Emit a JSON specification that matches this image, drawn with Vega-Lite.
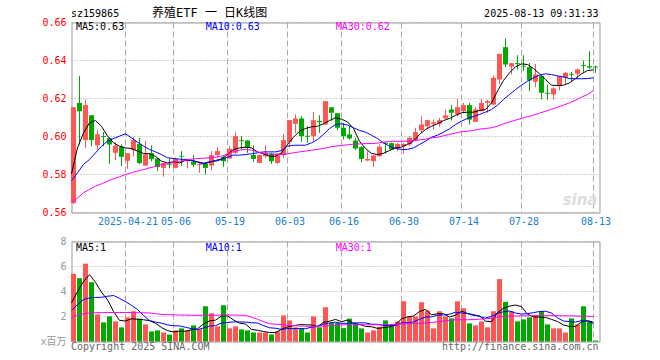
{
"$schema": "https://vega.github.io/schema/vega-lite/v6.json",
"background": "white",
"padding": {"left": 39.5, "top": 6.5, "right": 10, "bottom": 5},
"bounds": "flush",
"spacing": 29,
"config": {
  "view": {"stroke": "#999999", "strokeWidth": 1},
  "font": "DejaVu Sans Mono",
  "axis": {"labelFont": "DejaVu Sans Mono, Noto Sans CJK SC", "labelFontSize": 10, "title": null, "ticks": false, "domain": false, "gridColor": "#aaaaaa", "gridWidth": 1, "translate": 0, "labelOverlap": false, "labelFlush": false}
},
"datasets": {"k": [
{"d":"2025-04-08","o":0.5650,"h":0.6154,"l":0.5644,"c":0.6154,"v":5.42,"m5":0.5804,"m10":0.5768,"m30":0.5653,"vm5":3.10,"vm10":2.47,"vm30":1.93},
{"d":"2025-04-09","o":0.6177,"h":0.6318,"l":0.5958,"c":0.6133,"v":5.07,"m5":0.5940,"m10":0.5809,"m30":0.5677,"vm5":4.00,"vm10":2.95,"vm30":2.09},
{"d":"2025-04-10","o":0.5981,"h":0.6195,"l":0.5940,"c":0.6165,"v":6.23,"m5":0.6019,"m10":0.5853,"m30":0.5704,"vm5":4.80,"vm10":3.36,"vm30":2.23},
{"d":"2025-04-11","o":0.6112,"h":0.6112,"l":0.5949,"c":0.5981,"v":4.75,"m5":0.6072,"m10":0.5879,"m30":0.5721,"vm5":5.35,"vm10":3.49,"vm30":2.28},
{"d":"2025-04-14","o":0.5954,"h":0.6033,"l":0.5932,"c":0.6012,"v":2.17,"m5":0.6084,"m10":0.5914,"m30":0.5739,"vm5":4.73,"vm10":3.52,"vm30":2.30},
{"d":"2025-04-15","o":0.6002,"h":0.6023,"l":0.5949,"c":0.5997,"v":1.53,"m5":0.6054,"m10":0.5949,"m30":0.5751,"vm5":3.95,"vm10":3.54,"vm30":2.31},
{"d":"2025-04-16","o":0.5991,"h":0.5995,"l":0.5856,"c":0.5958,"v":2.01,"m5":0.6002,"m10":0.5975,"m30":0.5765,"vm5":3.34,"vm10":3.62,"vm30":2.32},
{"d":"2025-04-17","o":0.5914,"h":0.5970,"l":0.5875,"c":0.5953,"v":1.61,"m5":0.5967,"m10":0.5989,"m30":0.5777,"vm5":2.41,"vm10":3.68,"vm30":2.32},
{"d":"2025-04-18","o":0.5946,"h":0.5958,"l":0.5844,"c":0.5893,"v":1.13,"m5":0.5949,"m10":0.6002,"m30":0.5788,"vm5":1.69,"vm10":3.45,"vm30":2.32},
{"d":"2025-04-21","o":0.5872,"h":0.5912,"l":0.5830,"c":0.5912,"v":1.93,"m5":0.5940,"m10":0.6014,"m30":0.5800,"vm5":1.64,"vm10":3.19,"vm30":2.32},
{"d":"2025-04-22","o":0.5928,"h":0.5998,"l":0.5896,"c":0.5981,"v":2.42,"m5":0.5937,"m10":0.5993,"m30":0.5809,"vm5":1.82,"vm10":2.89,"vm30":2.32},
{"d":"2025-04-23","o":0.5961,"h":0.5993,"l":0.5856,"c":0.5860,"v":1.83,"m5":0.5923,"m10":0.5970,"m30":0.5818,"vm5":1.78,"vm10":2.56,"vm30":2.31},
{"d":"2025-04-24","o":0.5847,"h":0.5977,"l":0.5844,"c":0.5907,"v":1.37,"m5":0.5911,"m10":0.5949,"m30":0.5826,"vm5":1.74,"vm10":2.08,"vm30":2.30},
{"d":"2025-04-25","o":0.5912,"h":0.5953,"l":0.5870,"c":0.5881,"v":0.81,"m5":0.5909,"m10":0.5932,"m30":0.5835,"vm5":1.67,"vm10":1.68,"vm30":2.28},
{"d":"2025-04-28","o":0.5884,"h":0.5886,"l":0.5818,"c":0.5839,"v":0.89,"m5":0.5896,"m10":0.5919,"m30":0.5842,"vm5":1.46,"vm10":1.55,"vm30":2.23},
{"d":"2025-04-29","o":0.5835,"h":0.5860,"l":0.5788,"c":0.5860,"v":0.72,"m5":0.5870,"m10":0.5905,"m30":0.5853,"vm5":1.12,"vm10":1.47,"vm30":2.17},
{"d":"2025-04-30","o":0.5853,"h":0.5882,"l":0.5832,"c":0.5849,"v":0.56,"m5":0.5861,"m10":0.5888,"m30":0.5856,"vm5":0.87,"vm10":1.33,"vm30":2.15},
{"d":"2025-05-06","o":0.5835,"h":0.5888,"l":0.5832,"c":0.5882,"v":0.89,"m5":0.5867,"m10":0.5884,"m30":0.5863,"vm5":0.77,"vm10":1.26,"vm30":2.13},
{"d":"2025-05-07","o":0.5898,"h":0.5923,"l":0.5844,"c":0.5894,"v":1.05,"m5":0.5861,"m10":0.5881,"m30":0.5870,"vm5":0.82,"vm10":1.25,"vm30":2.12},
{"d":"2025-05-08","o":0.5870,"h":0.5882,"l":0.5832,"c":0.5882,"v":0.89,"m5":0.5874,"m10":0.5879,"m30":0.5875,"vm5":0.82,"vm10":1.14,"vm30":2.11},
{"d":"2025-05-09","o":0.5868,"h":0.5902,"l":0.5839,"c":0.5851,"v":1.29,"m5":0.5875,"m10":0.5874,"m30":0.5881,"vm5":0.94,"vm10":1.03,"vm30":2.10},
{"d":"2025-05-12","o":0.5851,"h":0.5861,"l":0.5809,"c":0.5856,"v":0.97,"m5":0.5865,"m10":0.5867,"m30":0.5884,"vm5":1.02,"vm10":0.94,"vm30":2.10},
{"d":"2025-05-13","o":0.5858,"h":0.5858,"l":0.5800,"c":0.5835,"v":2.82,"m5":0.5856,"m10":0.5860,"m30":0.5886,"vm5":1.40,"vm10":1.09,"vm30":2.10},
{"d":"2025-05-14","o":0.5847,"h":0.5923,"l":0.5821,"c":0.5902,"v":2.26,"m5":0.5865,"m10":0.5867,"m30":0.5888,"vm5":1.65,"vm10":1.23,"vm30":2.10},
{"d":"2025-05-15","o":0.5902,"h":0.5944,"l":0.5888,"c":0.5923,"v":1.21,"m5":0.5874,"m10":0.5870,"m30":0.5891,"vm5":1.71,"vm10":1.27,"vm30":2.10},
{"d":"2025-05-16","o":0.5891,"h":0.5896,"l":0.5840,"c":0.5870,"v":2.90,"m5":0.5882,"m10":0.5879,"m30":0.5896,"vm5":2.03,"vm10":1.48,"vm30":2.11},
{"d":"2025-05-19","o":0.5884,"h":0.5949,"l":0.5884,"c":0.5935,"v":1.05,"m5":0.5905,"m10":0.5891,"m30":0.5909,"vm5":2.05,"vm10":1.53,"vm30":2.12},
{"d":"2025-05-20","o":0.5914,"h":0.6025,"l":0.5909,"c":0.6002,"v":1.21,"m5":0.5932,"m10":0.5902,"m30":0.5921,"vm5":1.73,"vm10":1.57,"vm30":2.12},
{"d":"2025-05-21","o":0.5981,"h":0.6002,"l":0.5932,"c":0.5976,"v":0.97,"m5":0.5940,"m10":0.5902,"m30":0.5928,"vm5":1.47,"vm10":1.56,"vm30":2.10},
{"d":"2025-05-22","o":0.5979,"h":0.5981,"l":0.5914,"c":0.5940,"v":0.89,"m5":0.5944,"m10":0.5905,"m30":0.5932,"vm5":1.40,"vm10":1.56,"vm30":2.10},
{"d":"2025-05-23","o":0.5902,"h":0.5953,"l":0.5867,"c":0.5882,"v":0.72,"m5":0.5940,"m10":0.5909,"m30":0.5928,"vm5":0.97,"vm10":1.50,"vm30":1.95},
{"d":"2025-05-26","o":0.5861,"h":0.5902,"l":0.5861,"c":0.5902,"v":0.72,"m5":0.5919,"m10":0.5914,"m30":0.5919,"vm5":0.90,"vm10":1.48,"vm30":1.78},
{"d":"2025-05-27","o":0.5896,"h":0.5954,"l":0.5888,"c":0.5914,"v":0.72,"m5":0.5909,"m10":0.5919,"m30":0.5912,"vm5":0.80,"vm10":1.27,"vm30":1.58},
{"d":"2025-05-28","o":0.5911,"h":0.5914,"l":0.5856,"c":0.5870,"v":0.56,"m5":0.5896,"m10":0.5919,"m30":0.5907,"vm5":0.72,"vm10":1.10,"vm30":1.43},
{"d":"2025-05-29","o":0.5861,"h":0.5914,"l":0.5856,"c":0.5911,"v":0.81,"m5":0.5896,"m10":0.5919,"m30":0.5905,"vm5":0.71,"vm10":1.06,"vm30":1.38},
{"d":"2025-05-30","o":0.5902,"h":0.6014,"l":0.5888,"c":0.5981,"v":2.09,"m5":0.5914,"m10":0.5926,"m30":0.5905,"vm5":0.98,"vm10":0.97,"vm30":1.36},
{"d":"2025-06-03","o":0.5972,"h":0.6086,"l":0.5944,"c":0.6086,"v":1.69,"m5":0.5958,"m10":0.5949,"m30":0.5909,"vm5":1.17,"vm10":1.04,"vm30":1.30},
{"d":"2025-06-04","o":0.6067,"h":0.6116,"l":0.6019,"c":0.6095,"v":1.13,"m5":0.5996,"m10":0.5954,"m30":0.5914,"vm5":1.26,"vm10":1.03,"vm30":1.27},
{"d":"2025-06-05","o":0.6095,"h":0.6107,"l":0.5972,"c":0.6002,"v":1.05,"m5":0.6028,"m10":0.5954,"m30":0.5919,"vm5":1.35,"vm10":1.04,"vm30":1.24},
{"d":"2025-06-06","o":0.6004,"h":0.6054,"l":0.5967,"c":0.5999,"v":0.72,"m5":0.6042,"m10":0.5954,"m30":0.5923,"vm5":1.34,"vm10":1.02,"vm30":1.22},
{"d":"2025-06-09","o":0.6002,"h":0.6128,"l":0.5979,"c":0.6086,"v":2.01,"m5":0.6051,"m10":0.5967,"m30":0.5928,"vm5":1.32,"vm10":1.15,"vm30":1.22},
{"d":"2025-06-10","o":0.6082,"h":0.6112,"l":0.6019,"c":0.6075,"v":1.13,"m5":0.6054,"m10":0.5984,"m30":0.5932,"vm5":1.21,"vm10":1.19,"vm30":1.22},
{"d":"2025-06-11","o":0.6063,"h":0.6186,"l":0.6063,"c":0.6186,"v":2.74,"m5":0.6067,"m10":0.6011,"m30":0.5937,"vm5":1.53,"vm10":1.39,"vm30":1.24},
{"d":"2025-06-12","o":0.6154,"h":0.6154,"l":0.6084,"c":0.6125,"v":1.48,"m5":0.6084,"m10":0.6042,"m30":0.5944,"vm5":1.62,"vm10":1.49,"vm30":1.27},
{"d":"2025-06-13","o":0.6123,"h":0.6123,"l":0.6032,"c":0.6046,"v":1.48,"m5":0.6098,"m10":0.6063,"m30":0.5949,"vm5":1.77,"vm10":1.55,"vm30":1.30},
{"d":"2025-06-16","o":0.6046,"h":0.6072,"l":0.5984,"c":0.6002,"v":1.07,"m5":0.6091,"m10":0.6067,"m30":0.5953,"vm5":1.58,"vm10":1.45,"vm30":1.32},
{"d":"2025-06-17","o":0.6011,"h":0.6054,"l":0.5984,"c":0.5990,"v":1.83,"m5":0.6077,"m10":0.6060,"m30":0.5956,"vm5":1.72,"vm10":1.46,"vm30":1.34},
{"d":"2025-06-18","o":0.5979,"h":0.5993,"l":0.5928,"c":0.5937,"v":1.40,"m5":0.6042,"m10":0.6046,"m30":0.5960,"vm5":1.45,"vm10":1.49,"vm30":1.34},
{"d":"2025-06-19","o":0.5944,"h":0.5949,"l":0.5865,"c":0.5882,"v":1.05,"m5":0.5975,"m10":0.6032,"m30":0.5961,"vm5":1.37,"vm10":1.49,"vm30":1.34},
{"d":"2025-06-20","o":0.5874,"h":0.5923,"l":0.5870,"c":0.5882,"v":0.72,"m5":0.5937,"m10":0.6023,"m30":0.5963,"vm5":1.21,"vm10":1.49,"vm30":1.34},
{"d":"2025-06-23","o":0.5870,"h":0.5900,"l":0.5839,"c":0.5900,"v":0.89,"m5":0.5911,"m10":0.6007,"m30":0.5963,"vm5":1.18,"vm10":1.38,"vm30":1.34},
{"d":"2025-06-24","o":0.5896,"h":0.5958,"l":0.5896,"c":0.5946,"v":1.18,"m5":0.5905,"m10":0.5989,"m30":0.5965,"vm5":1.05,"vm10":1.38,"vm30":1.34},
{"d":"2025-06-25","o":0.5967,"h":0.5967,"l":0.5910,"c":0.5962,"v":1.69,"m5":0.5912,"m10":0.5967,"m30":0.5970,"vm5":1.11,"vm10":1.28,"vm30":1.35},
{"d":"2025-06-26","o":0.5965,"h":0.5968,"l":0.5932,"c":0.5932,"v":1.34,"m5":0.5926,"m10":0.5949,"m30":0.5974,"vm5":1.16,"vm10":1.27,"vm30":1.36},
{"d":"2025-06-27","o":0.5937,"h":0.5965,"l":0.5923,"c":0.5961,"v":1.61,"m5":0.5940,"m10":0.5937,"m30":0.5975,"vm5":1.34,"vm10":1.28,"vm30":1.38},
{"d":"2025-06-30","o":0.5949,"h":0.5965,"l":0.5909,"c":0.5961,"v":3.22,"m5":0.5944,"m10":0.5932,"m30":0.5975,"vm5":1.81,"vm10":1.49,"vm30":1.40},
{"d":"2025-07-01","o":0.5958,"h":0.6002,"l":0.5949,"c":0.5993,"v":2.01,"m5":0.5958,"m10":0.5932,"m30":0.5975,"vm5":1.97,"vm10":1.51,"vm30":1.42},
{"d":"2025-07-02","o":0.5979,"h":0.6046,"l":0.5975,"c":0.6023,"v":2.01,"m5":0.5975,"m10":0.5940,"m30":0.5979,"vm5":2.04,"vm10":1.57,"vm30":1.44},
{"d":"2025-07-03","o":0.6033,"h":0.6107,"l":0.6019,"c":0.6063,"v":3.14,"m5":0.6011,"m10":0.5958,"m30":0.5982,"vm5":2.40,"vm10":1.78,"vm30":1.46},
{"d":"2025-07-04","o":0.6054,"h":0.6089,"l":0.6042,"c":0.6086,"v":2.47,"m5":0.6037,"m10":0.5975,"m30":0.5986,"vm5":2.57,"vm10":1.96,"vm30":1.48},
{"d":"2025-07-07","o":0.6067,"h":0.6089,"l":0.6037,"c":0.6075,"v":1.05,"m5":0.6054,"m10":0.5996,"m30":0.5993,"vm5":2.14,"vm10":1.97,"vm30":1.52},
{"d":"2025-07-08","o":0.6067,"h":0.6098,"l":0.6051,"c":0.6086,"v":2.42,"m5":0.6067,"m10":0.6007,"m30":0.5996,"vm5":2.22,"vm10":2.10,"vm30":1.58},
{"d":"2025-07-09","o":0.6095,"h":0.6142,"l":0.6095,"c":0.6111,"v":2.01,"m5":0.6084,"m10":0.6023,"m30":0.6004,"vm5":2.22,"vm10":2.13,"vm30":1.64},
{"d":"2025-07-10","o":0.6142,"h":0.6165,"l":0.6084,"c":0.6125,"v":1.85,"m5":0.6095,"m10":0.6040,"m30":0.6011,"vm5":1.96,"vm10":2.18,"vm30":1.70},
{"d":"2025-07-11","o":0.6116,"h":0.6198,"l":0.6107,"c":0.6154,"v":3.22,"m5":0.6111,"m10":0.6063,"m30":0.6018,"vm5":2.11,"vm10":2.34,"vm30":1.74},
{"d":"2025-07-14","o":0.6133,"h":0.6177,"l":0.6125,"c":0.6165,"v":2.66,"m5":0.6125,"m10":0.6081,"m30":0.6025,"vm5":2.43,"vm10":2.28,"vm30":1.74},
{"d":"2025-07-15","o":0.6165,"h":0.6177,"l":0.6063,"c":0.6089,"v":1.45,"m5":0.6128,"m10":0.6095,"m30":0.6028,"vm5":2.24,"vm10":2.23,"vm30":1.74},
{"d":"2025-07-16","o":0.6077,"h":0.6154,"l":0.6077,"c":0.6142,"v":1.29,"m5":0.6128,"m10":0.6105,"m30":0.6032,"vm5":2.09,"vm10":2.16,"vm30":1.76},
{"d":"2025-07-17","o":0.6133,"h":0.6198,"l":0.6133,"c":0.6177,"v":1.61,"m5":0.6137,"m10":0.6116,"m30":0.6039,"vm5":2.05,"vm10":2.00,"vm30":1.78},
{"d":"2025-07-18","o":0.6177,"h":0.6195,"l":0.6125,"c":0.6186,"v":1.13,"m5":0.6142,"m10":0.6128,"m30":0.6042,"vm5":1.63,"vm10":1.87,"vm30":1.82},
{"d":"2025-07-21","o":0.6168,"h":0.6321,"l":0.6165,"c":0.6309,"v":2.42,"m5":0.6177,"m10":0.6142,"m30":0.6046,"vm5":1.58,"vm10":2.01,"vm30":1.86},
{"d":"2025-07-22","o":0.6300,"h":0.6435,"l":0.6274,"c":0.6435,"v":4.99,"m5":0.6239,"m10":0.6165,"m30":0.6054,"vm5":2.29,"vm10":2.26,"vm30":1.95},
{"d":"2025-07-23","o":0.6470,"h":0.6516,"l":0.6365,"c":0.6379,"v":3.17,"m5":0.6295,"m10":0.6195,"m30":0.6067,"vm5":2.66,"vm10":2.38,"vm30":2.01},
{"d":"2025-07-24","o":0.6368,"h":0.6386,"l":0.6326,"c":0.6386,"v":2.42,"m5":0.6335,"m10":0.6221,"m30":0.6077,"vm5":2.83,"vm10":2.44,"vm30":2.03},
{"d":"2025-07-25","o":0.6386,"h":0.6428,"l":0.6353,"c":0.6381,"v":1.61,"m5":0.6367,"m10":0.6247,"m30":0.6086,"vm5":2.92,"vm10":2.28,"vm30":2.04},
{"d":"2025-07-28","o":0.6372,"h":0.6428,"l":0.6344,"c":0.6367,"v":1.77,"m5":0.6382,"m10":0.6270,"m30":0.6095,"vm5":2.79,"vm10":2.19,"vm30":2.05},
{"d":"2025-07-29","o":0.6365,"h":0.6388,"l":0.6239,"c":0.6295,"v":1.93,"m5":0.6379,"m10":0.6291,"m30":0.6104,"vm5":2.18,"vm10":2.23,"vm30":2.06},
{"d":"2025-07-30","o":0.6288,"h":0.6382,"l":0.6260,"c":0.6326,"v":2.09,"m5":0.6358,"m10":0.6309,"m30":0.6112,"vm5":1.96,"vm10":2.31,"vm30":2.07},
{"d":"2025-07-31","o":0.6318,"h":0.6318,"l":0.6195,"c":0.6230,"v":2.42,"m5":0.6330,"m10":0.6323,"m30":0.6123,"vm5":1.96,"vm10":2.40,"vm30":2.07},
{"d":"2025-08-01","o":0.6230,"h":0.6274,"l":0.6195,"c":0.6225,"v":1.37,"m5":0.6300,"m10":0.6330,"m30":0.6133,"vm5":1.92,"vm10":2.42,"vm30":2.07},
{"d":"2025-08-04","o":0.6221,"h":0.6260,"l":0.6195,"c":0.6253,"v":1.05,"m5":0.6270,"m10":0.6326,"m30":0.6144,"vm5":1.77,"vm10":2.28,"vm30":2.07},
{"d":"2025-08-05","o":0.6265,"h":0.6318,"l":0.6242,"c":0.6318,"v":1.05,"m5":0.6268,"m10":0.6319,"m30":0.6154,"vm5":1.60,"vm10":1.89,"vm30":2.07},
{"d":"2025-08-06","o":0.6309,"h":0.6339,"l":0.6274,"c":0.6335,"v":0.72,"m5":0.6270,"m10":0.6314,"m30":0.6165,"vm5":1.32,"vm10":1.64,"vm30":2.06},
{"d":"2025-08-07","o":0.6330,"h":0.6340,"l":0.6291,"c":0.6325,"v":1.85,"m5":0.6282,"m10":0.6305,"m30":0.6177,"vm5":1.21,"vm10":1.59,"vm30":2.05},
{"d":"2025-08-08","o":0.6330,"h":0.6358,"l":0.6309,"c":0.6353,"v":1.37,"m5":0.6305,"m10":0.6304,"m30":0.6191,"vm5":1.21,"vm10":1.56,"vm30":2.04},
{"d":"2025-08-11","o":0.6377,"h":0.6400,"l":0.6335,"c":0.6372,"v":2.82,"m5":0.6330,"m10":0.6304,"m30":0.6207,"vm5":1.56,"vm10":1.67,"vm30":2.03},
{"d":"2025-08-12","o":0.6370,"h":0.6449,"l":0.6356,"c":0.6363,"v":1.61,"m5":0.6347,"m10":0.6305,"m30":0.6221,"vm5":1.67,"vm10":1.64,"vm30":2.02},
{"d":"2025-08-13","o":0.6368,"h":0.6374,"l":0.6335,"c":0.6363,"v":0.08,"m5":0.6351,"m10":0.6309,"m30":0.6242,"vm5":1.55,"vm10":1.43,"vm30":2.01}
]},
"vconcat": [
{
  "width": 528, "height": 190,
  "data": {"name": "k"},
  "encoding": {
    "x": {"field": "d", "type": "ordinal", "scale": {"type": "band", "paddingInner": 0, "paddingOuter": 0},
      "axis": {"values": ["2025-04-21","2025-05-06","2025-05-19","2025-06-03","2025-06-16","2025-06-30","2025-07-14","2025-07-28","2025-08-13"],
        "labelExpr": "datum.value == '2025-04-21' ? datum.value : slice(datum.value, 5)",
        "labelAngle": 0, "labelColor": "#1a80d0", "labelPadding": 4, "labelOverlap": false, "grid": true, "gridDash": [6, 3], "bandPosition": 0}}
  },
  "layer": [
    {"mark": {"type": "rule", "xOffset": -1, "strokeWidth": 1},
     "encoding": {
       "y": {"field": "l", "type": "quantitative", "scale": {"domain": [0.56, 0.66], "zero": false, "nice": false},
         "axis": {"values": [0.56, 0.58, 0.6, 0.62, 0.64, 0.66], "format": ".2f", "labelColor": "#ff0000", "labelPadding": 5, "labelOverlap": false, "tickCount": 6, "grid": true, "gridDash": [1, 2]}},
       "y2": {"field": "h"},
       "color": {"condition": {"test": "datum.c >= datum.o", "value": "#ff5555"}, "value": "#00a800"}}},
    {"mark": {"type": "bar", "width": 5, "xOffset": -1},
     "encoding": {
       "y": {"field": "o", "type": "quantitative"},
       "y2": {"field": "c"},
       "color": {"condition": {"test": "datum.c >= datum.o", "value": "#ff5555"}, "value": "#00a800"}}},
    {"mark": {"type": "line", "color": "#000000", "strokeWidth": 1, "xOffset": -3},
     "encoding": {"y": {"field": "m5", "type": "quantitative"}}},
    {"mark": {"type": "line", "color": "#0000ff", "strokeWidth": 1, "xOffset": -3},
     "encoding": {"y": {"field": "m10", "type": "quantitative"}}},
    {"mark": {"type": "line", "color": "#ff00ff", "strokeWidth": 1, "xOffset": -3},
     "encoding": {"y": {"field": "m30", "type": "quantitative"}}},
    {"data": {"values": [{}]},
     "mark": {"type": "text", "align": "left", "baseline": "middle", "dx": 1.5, "dy": 4.5, "fontSize": 10, "font": "DejaVu Sans Mono", "color": "#000000"},
     "encoding": {"x": {"datum": "2025-04-08"}, "y": {"datum": 0.66}, "text": {"value": "MA5:0.63"}}},
    {"data": {"values": [{}]},
     "mark": {"type": "text", "align": "left", "baseline": "middle", "dx": 131.2, "dy": 4.5, "fontSize": 10, "font": "DejaVu Sans Mono", "color": "#0000ff"},
     "encoding": {"x": {"datum": "2025-04-08"}, "y": {"datum": 0.66}, "text": {"value": "MA10:0.63"}}},
    {"data": {"values": [{}]},
     "mark": {"type": "text", "align": "left", "baseline": "middle", "dx": 261.2, "dy": 4.5, "fontSize": 10, "font": "DejaVu Sans Mono", "color": "#ff00ff"},
     "encoding": {"x": {"datum": "2025-04-08"}, "y": {"datum": 0.66}, "text": {"value": "MA30:0.62"}}},
    {"data": {"values": [{}]},
     "mark": {"type": "text", "align": "left", "baseline": "middle", "dx": -3.5, "dy": -9, "fontSize": 10, "font": "DejaVu Sans Mono", "color": "#000000"},
     "encoding": {"x": {"datum": "2025-04-08"}, "y": {"datum": 0.66}, "text": {"value": "sz159865"}}},
    {"data": {"values": [{}]},
     "mark": {"type": "text", "align": "left", "baseline": "middle", "dx": 77.5, "dy": -9.5, "fontSize": 12, "font": "DejaVu Sans Mono, Noto Sans CJK SC", "color": "#000000"},
     "encoding": {"x": {"datum": "2025-04-08"}, "y": {"datum": 0.66}, "text": {"value": "养殖ETF 一 日K线图"}}},
    {"data": {"values": [{}]},
     "mark": {"type": "text", "align": "right", "baseline": "middle", "dx": 2, "dy": -9, "fontSize": 10, "font": "DejaVu Sans Mono", "color": "#000000"},
     "encoding": {"x": {"datum": "2025-08-13"}, "y": {"datum": 0.66}, "text": {"value": "2025-08-13 09:31:33"}}},
    {"data": {"values": [{}]},
     "mark": {"type": "text", "align": "right", "baseline": "middle", "dx": 1, "dy": -13, "fontSize": 15, "font": "DejaVu Sans", "fontWeight": "bold", "fontStyle": "italic", "color": "#dddddd"},
     "encoding": {"x": {"datum": "2025-08-13"}, "y": {"datum": 0.56}, "text": {"value": "sina"}}}
  ]
},
{
  "width": 528, "height": 100,
  "data": {"name": "k"},
  "encoding": {
    "x": {"field": "d", "type": "ordinal", "scale": {"type": "band", "paddingInner": 0, "paddingOuter": 0},
      "axis": {"values": ["2025-04-21","2025-05-06","2025-05-19","2025-06-03","2025-06-16","2025-06-30","2025-07-14","2025-07-28","2025-08-13"],
        "labels": false, "grid": true, "gridDash": [6, 3], "bandPosition": 0}}
  },
  "layer": [
    {"mark": {"type": "bar", "width": 5, "xOffset": -1},
     "encoding": {
       "y": {"field": "v", "type": "quantitative", "scale": {"domain": [0, 8], "nice": false},
         "axis": {"values": [0, 2, 4, 6, 8], "labelExpr": "datum.value == 0 ? 'x百万' : datum.label", "labelColor": "#999999", "labelPadding": 5, "labelOverlap": false, "tickCount": 5, "grid": true, "gridDash": [1, 2]}},
       "color": {"condition": {"test": "datum.c >= datum.o", "value": "#ff5555"}, "value": "#00a800"}}},
    {"mark": {"type": "line", "color": "#000000", "strokeWidth": 1, "xOffset": -3},
     "encoding": {"y": {"field": "vm5", "type": "quantitative"}}},
    {"mark": {"type": "line", "color": "#0000ff", "strokeWidth": 1, "xOffset": -3},
     "encoding": {"y": {"field": "vm10", "type": "quantitative"}}},
    {"mark": {"type": "line", "color": "#ff00ff", "strokeWidth": 1, "xOffset": -3},
     "encoding": {"y": {"field": "vm30", "type": "quantitative"}}},
    {"data": {"values": [{}]},
     "mark": {"type": "text", "align": "left", "baseline": "middle", "dx": 1.5, "dy": 6, "fontSize": 10, "font": "DejaVu Sans Mono", "color": "#000000"},
     "encoding": {"x": {"datum": "2025-04-08"}, "y": {"datum": 8}, "text": {"value": "MA5:1"}}},
    {"data": {"values": [{}]},
     "mark": {"type": "text", "align": "left", "baseline": "middle", "dx": 131.2, "dy": 6, "fontSize": 10, "font": "DejaVu Sans Mono", "color": "#0000ff"},
     "encoding": {"x": {"datum": "2025-04-08"}, "y": {"datum": 8}, "text": {"value": "MA10:1"}}},
    {"data": {"values": [{}]},
     "mark": {"type": "text", "align": "left", "baseline": "middle", "dx": 261.2, "dy": 6, "fontSize": 10, "font": "DejaVu Sans Mono", "color": "#ff00ff"},
     "encoding": {"x": {"datum": "2025-04-08"}, "y": {"datum": 8}, "text": {"value": "MA30:1"}}},
    {"data": {"values": [{}]},
     "mark": {"type": "text", "align": "left", "baseline": "middle", "dx": -3.5, "dy": 5.5, "fontSize": 10, "font": "DejaVu Sans Mono", "color": "#666666"},
     "encoding": {"x": {"datum": "2025-04-08"}, "y": {"datum": 0}, "text": {"value": "Copyright 2025 SINA.COM"}}},
    {"data": {"values": [{}]},
     "mark": {"type": "text", "align": "right", "baseline": "middle", "dx": 2, "dy": 5.5, "fontSize": 10, "font": "DejaVu Sans Mono", "color": "#666666"},
     "encoding": {"x": {"datum": "2025-08-13"}, "y": {"datum": 0}, "text": {"value": "http://finance.sina.com.cn"}}}
  ]
}
]
}
